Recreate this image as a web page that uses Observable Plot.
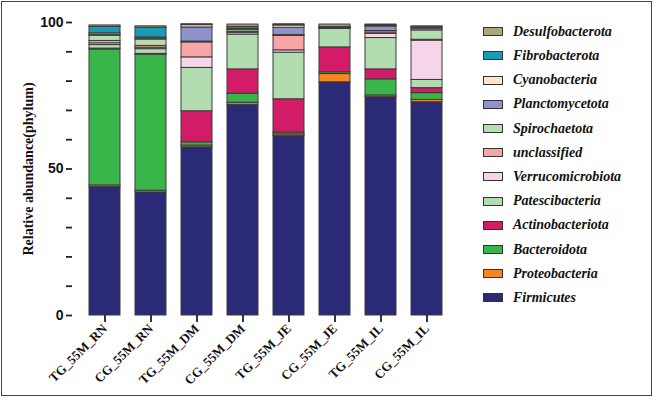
<!DOCTYPE html>
<html><head><meta charset="utf-8">
<script src="https://cdn.jsdelivr.net/npm/d3@7"></script>
<script src="https://cdn.jsdelivr.net/npm/@observablehq/plot@0.6"></script>
<style>
body{margin:0;background:#fff;}
#wrap{position:relative;width:653px;height:397px;overflow:hidden;background:#fff;}
#border{position:absolute;left:1px;top:1px;width:651px;height:395px;box-sizing:border-box;border:1.5px solid #444;pointer-events:none;}
#chart{position:absolute;left:0;top:0;}
#legend{position:absolute;left:483px;top:0;}
.item{position:absolute;left:0;height:20px;white-space:nowrap;display:flex;align-items:center;}
.sw{width:18px;height:7px;border:1.2px solid #333;}
.lab{margin-left:10px;font-family:"Liberation Serif","Times New Roman",serif;font-style:italic;font-weight:bold;font-size:14px;color:#111;}
</style>
</head><body>
<div id="wrap"><div id="chart"></div><div id="legend"></div><div id="border"></div></div>
<script>
const samples = ["TG_55M_RN","CG_55M_RN","TG_55M_DM","CG_55M_DM","TG_55M_JE","CG_55M_JE","TG_55M_IL","CG_55M_IL"];
// stacking order, bottom to top
const phyla = ["Firmicutes","Proteobacteria","Bacteroidota","Actinobacteriota","Patescibacteria","Verrucomicrobiota","unclassified","Spirochaetota","Planctomycetota","Cyanobacteria","Fibrobacterota","Desulfobacterota"];
const colors = ["#2a2a76","#f7861f","#3ab54a","#d31c68","#b2ddb0","#f6d5ea","#f7a5a5","#b5deb1","#8e93cc","#fde4c8","#1a9bb5","#aca67a"];

const Firmicutes        = [43.8, 42.0, 57.4, 71.9, 61.2, 79.6, 74.5, 72.8];
const Proteobacteria    = [0.6, 0.6, 0.6, 0.7, 0.6, 2.8, 0.6, 0.8];
const Bacteroidota      = [46.4, 46.4, 1.1, 3.1, 0.6, 0.6, 5.5, 2.3];
const Actinobacteriota  = [0.3, 0.3, 10.6, 8.3, 11.4, 8.5, 3.4, 1.7];
const Patescibacteria   = [1.2, 1.6, 14.8, 11.9, 15.9, 6.3, 10.7, 2.8];
const Verrucomicrobiota = [0.6, 0.5, 3.6, 0.6, 0.8, 0.2, 1.4, 13.4];
const unclassified      = [0.8, 0.6, 5.1, 0.3, 4.9, 0.1, 0.5, 0.3];
const Spirochaetota     = [1.8, 2.2, 0.3, 0.6, 0.3, 0.1, 0.5, 3.2];
const Planctomycetota   = [0.3, 0.3, 4.8, 0.4, 2.5, 0.1, 1.5, 0.6];
const Cyanobacteria     = [0.5, 0.4, 0.8, 0.5, 0.8, 0.1, 0.3, 0.3];
const Fibrobacterota    = [2.2, 3.3, 0.1, 0.2, 0.1, 0.1, 0.1, 0.1];
const Desulfobacterota  = [0.5, 0.5, 0.2, 0.8, 0.3, 0.8, 0.3, 0.4];

const yTicks = [0,10,20,30,40,50,60,70,80,90,100];
const yTickLabels = {0:"0", 50:"50", 100:"100"};

const series = {Firmicutes, Proteobacteria, Bacteroidota, Actinobacteriota, Patescibacteria, Verrucomicrobiota, unclassified, Spirochaetota, Planctomycetota, Cyanobacteria, Fibrobacterota, Desulfobacterota};
const rows = [];
for (const p of phyla) series[p].forEach((v, i) => rows.push({sample: samples[i], phylum: p, value: v}));

const chart = Plot.plot({
  width: 653, height: 397,
  marginLeft: 72, marginRight: 195, marginTop: 22, marginBottom: 82,
  x: {domain: samples, paddingInner: 0.33, paddingOuter: 0.36, label: null},
  y: {domain: [0, 100], label: null},
  color: {domain: phyla, range: colors},
  marks: [
    Plot.barY(rows, {x: "sample", y: "value", fill: "phylum", stroke: "#3a3a3a", strokeWidth: 1}),
    Plot.axisY({ticks: yTicks, tickSize: 6, tickPadding: 3, line: true, stroke: "#222", strokeWidth: 1.8,
      tickFormat: d => yTickLabels[d] ?? "", fontSize: 14, fontWeight: "bold", fontFamily: "Liberation Sans, Arial, sans-serif", fill: "#111", label: null}),
    Plot.axisX({tickSize: 7, tickPadding: 4, tickRotate: -45, line: true, stroke: "#222", strokeWidth: 1.8,
      fontSize: 13, fontWeight: "bold", fontFamily: "Liberation Serif, Times New Roman, serif", fill: "#111", label: null}),
    Plot.text(["Relative abundance(phylum)"], {frameAnchor: "left", textAnchor: "middle", dx: -44, rotate: -90, fontSize: 14, fontWeight: "bold", fontFamily: "Liberation Serif, Times New Roman, serif", fill: "#111"})
  ]
});
document.getElementById("chart").appendChild(chart);

const legend = document.getElementById("legend");
const legendOrder = phyla.slice().reverse();
legendOrder.forEach((p, i) => {
  const it = document.createElement("div");
  it.className = "item";
  it.style.top = (31.7 + i * 24.2 - 10) + "px";
  const sw = document.createElement("div");
  sw.className = "sw";
  sw.style.background = colors[phyla.indexOf(p)];
  const lab = document.createElement("span");
  lab.className = "lab";
  lab.textContent = p;
  it.appendChild(sw); it.appendChild(lab);
  legend.appendChild(it);
});
</script>
</body></html>
